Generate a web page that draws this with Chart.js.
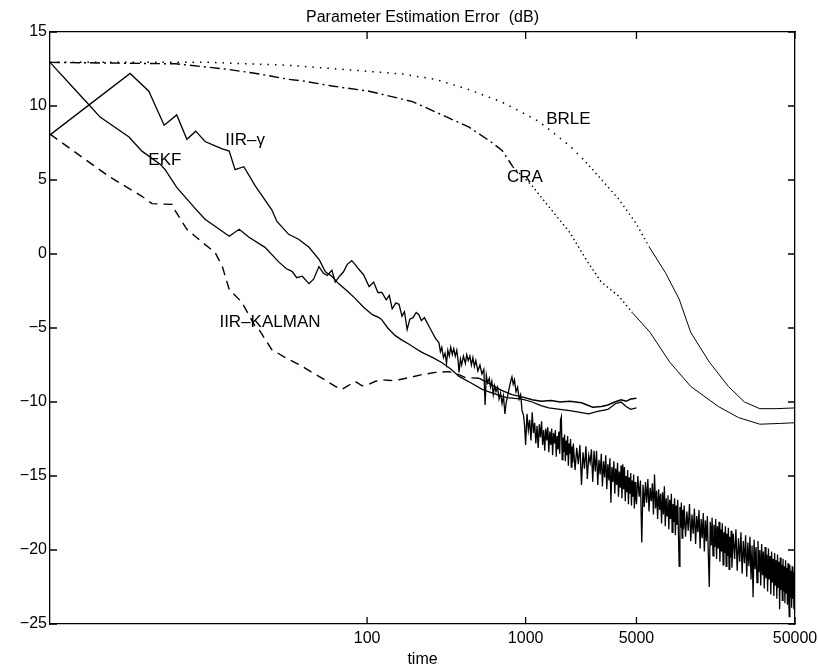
<!DOCTYPE html>
<html>
<head>
<meta charset="utf-8">
<title>Parameter Estimation Error</title>
<script src="https://cdn.jsdelivr.net/npm/chart.js@4/dist/chart.umd.min.js"></script>
<style>
  body{margin:0;background:#fff;}
  canvas{display:block;}
</style>
</head>
<body>
<canvas id="chart" width="818" height="671"></canvas>
<script>
// x axis ticks (time, log scale)
const xTicks = [100, 1000, 5000, 50000];

// EKF (noisy solid line, runs to 50000)
const ekfTime = [1,1.44,1.79,2.07,3.15,3.8,4.95,5.3,6.3,8.2,9.5,11.7,13.5,15.6,18,22.7,27.8,31,33.6,36,39,43,46,49.7,53,56,60,63,67,71,75,80,84,89,95,103,110,117,124,132,138,144,152,159,166,172,179,186,195,204,212,220,230,246,258,270,
  284,290,296,303,310,317,323,330,337,345,352,360,368,375,380,388,395,405,417,425,435,445,455,465,475,485,500,515,530,545,555,565,575,590,600,612,625,637,650,665,680,695,710,725,740,755,770,790,805,820,835,850,870,890,910,930,950,970,985,
  1000,1020,1040,1060,1080,1100,1120,1140,1160,1180,1200,1220,1240,1260,1280,1300,1320,1340,1360,1380,1400,1420,1440,1460,1480,
  1500,1520,1540,1560,1580,1600,1620,1640,1660,1680,1700,1720,1740,1760,1780,1800,1820,1840,1860,1880,1900,1920,1940,1960,1980,
  2000,2050,2100,2150,2200,2250,2300,2350,2400,2450,2500,2550,2600,2650,2700,2750,2800,2850,2900,2950,
  3000,3050,3100,3150,3200,3250,3300,3350,3400,3450,3500,3550,3600,3650,3700,3750,3800,3850,3900,3950,
  4000,4050,4100,4150,4200,4250,4300,4350,4400,4450,4500,4550,4600,4650,4700,4750,4800,4850,4900,4950,
  5000,5100,5200,5300,5400,5500,5600,5700,5800,5900,6000,6100,6200,6300,6400,6500,6600,6700,6800,6900,
  7000,7100,7200,7300,7400,7500,7600,7700,7800,7900,8000,8100,8200,8300,8400,8500,8600,8700,8800,8900,
  9000,9100,9200,9300,9400,9500,9600,9700,9800,9900,
  10000,10200,10400,10600,10800,11000,11200,11400,11600,11800,12000,12200,12400,12600,12800,13000,13200,13400,13600,13800,
  14000,14200,14400,14600,14800,15000,15200,15400,15600,15800,16000,16200,16400,16600,16800,17000,17200,17400,17600,17800,
  18000,18200,18400,18600,18800,19000,19200,19400,19600,19800,
  20000,20400,20800,21200,21600,22000,22400,22800,23200,23600,24000,24400,24800,25200,25600,26000,26400,26800,27200,27600,
  28000,28400,28800,29200,29600,30000,30400,30800,31200,31600,32000,32400,32800,33200,33600,34000,34400,34800,35200,35600,
  36000,36400,36800,37200,37600,38000,38400,38800,39200,39600,40000,40400,40800,41200,41600,42000,42400,42800,43200,43600,
  44000,44400,44800,45200,45600,46000,46400,46800,47200,47600,48000,48400,48800,49200,49600,50000];
const ekfDb = [12.95,11.1,10.0,9.25,7.9,6.95,6.07,5.73,4.5,3.1,2.35,1.67,1.2,1.67,1.13,0.45,-0.55,-1.0,-1.17,-1.6,-1.5,-2.0,-1.7,-0.85,-1.3,-1.45,-1.1,-1.9,-1.5,-1.2,-0.7,-0.45,-0.7,-1.05,-1.4,-2.2,-1.9,-2.6,-2.6,-3.1,-2.8,-3.7,-3.3,-3.4,-4.2,-3.9,-5.1,-4.4,-4.3,-3.95,-4.1,-4.5,-4.3,-4.9,-5.3,-5.7,
  -6.0,-6.6,-6.3,-7.0,-6.7,-7.4,-6.5,-6.9,-6.3,-6.8,-6.4,-6.9,-6.5,-7.2,-8.0,-7.1,-7.5,-6.9,-7.4,-6.8,-7.2,-6.9,-7.5,-7.0,-7.6,-7.2,-7.9,-7.5,-8.1,-7.8,-10.2,-8.2,-8.7,-8.4,-9.0,-8.6,-9.5,-8.9,-9.3,-9.0,-9.8,-9.4,-10.1,-9.6,-10.8,-10.0,-9.6,-9.0,-8.6,-8.3,-8.8,-8.5,-9.3,-9.0,-9.8,-9.5,-10.6,-10.9,-11.6,
  -12.9,-10.8,-11.9,-11.2,-12.6,-10.7,-12.1,-11.4,-12.8,-11.6,-13.1,-11.5,-12.4,-11.3,-12.9,-11.9,-13.3,-11.8,-12.6,-11.7,-13.4,-12.0,-12.9,-11.8,-13.6,
  -12.1,-12.8,-11.9,-13.7,-12.3,-13.2,-12.0,-13.5,-11.2,-11.0,-13.9,-12.4,-13.4,-12.2,-14.0,-12.6,-13.6,-12.3,-14.3,-12.8,-13.5,-12.5,-14.4,-13.0,-14.1,
  -12.8,-14.6,-13.1,-14.2,-12.9,-15.6,-13.4,-14.5,-13.0,-15.2,-13.6,-14.1,-13.2,-15.4,-13.3,-14.7,-13.3,-15.6,-13.9,-14.9,
  -13.5,-15.7,-14.0,-15.1,-13.6,-15.9,-14.2,-15.3,-13.8,-16.8,-14.4,-15.4,-14.0,-16.2,-14.5,-15.6,-14.1,-16.4,-14.7,-15.8,
  -14.3,-16.5,-14.2,-15.9,-14.4,-16.7,-15.0,-16.1,-14.6,-16.9,-15.1,-16.2,-14.8,-17.0,-15.3,-16.4,-14.9,-17.2,-15.4,-16.5,
  -16.9,-15.0,-16.4,-15.3,-19.5,-15.6,-17.1,-15.4,-16.8,-15.2,-17.4,-15.8,-16.7,-15.5,-17.6,-14.9,-17.2,-16.0,-17.9,-15.9,
  -17.3,-16.2,-18.2,-16.1,-17.6,-15.7,-18.4,-16.5,-17.7,-16.3,-18.6,-16.6,-17.9,-16.2,-18.8,-16.9,-18.1,-16.5,-19.0,-17.0,
  -18.3,-16.6,-18.9,-21.1,-17.1,-18.5,-16.8,-19.2,-17.3,-18.6,
  -17.0,-19.1,-17.4,-18.7,-16.9,-19.4,-17.6,-18.9,-17.2,-19.6,-17.7,-18.8,-17.3,-19.9,-17.9,-19.2,-17.5,-20.1,-18.0,-19.4,
  -17.7,-20.3,-22.5,-18.1,-19.7,-17.8,-20.4,-18.3,-19.8,-17.9,-20.6,-18.4,-19.9,-18.1,-20.8,-18.6,-20.1,-18.2,-21.0,-18.8,
  -20.2,-18.4,-21.1,-18.9,-20.4,-18.5,-21.3,-19.1,-20.5,-18.7,
  -21.2,-18.9,-20.6,-18.6,-21.4,-19.2,-20.8,-18.8,-21.6,-19.4,-20.9,-19.0,-21.8,-19.5,-21.1,-19.1,-22.0,-19.7,-23.2,-19.3,
  -21.3,-19.8,-22.2,-19.4,-21.5,-20.0,-22.4,-19.6,-21.7,-20.1,-22.6,-19.8,-21.9,-20.3,-22.8,-19.9,-22.0,-20.4,-23.0,-20.1,
  -22.2,-20.6,-23.1,-20.2,-22.4,-20.7,-23.3,-20.3,-22.5,-20.8,-24.0,-20.5,-22.7,-21.0,-23.4,-20.6,-22.8,-21.1,-23.6,-20.7,
  -22.9,-21.2,-23.7,-20.9,-23.0,-24.5,-21.0,-23.2,-21.4,-23.9,-21.1,-23.3,-21.5,-24.0,-21.2,-22.4];

// IIR-gamma (solid, ends at 5000)
const iirgTime = [1,3.2,4.2,5.25,6.3,7.3,8.3,9.5,11,12.2,13.5,14.7,16.7,19.7,25,27,32,37,43,50,54.5,60,66,75,84,95,108,119,124,135,150,165,184,200,222,260,297,340,380,450,532,600,680,760,850,950,1100,1250,1400,1650,1950,2200,2500,2800,3300,3700,4000,4300,4600,5000];
const iirgDb = [8.05,12.2,11.0,8.7,9.4,7.75,8.3,7.6,7.3,7.1,6.95,5.7,5.9,4.6,3.0,2.2,1.33,1.0,0.45,-0.4,-1.2,-1.5,-2.0,-2.5,-3.0,-3.6,-4.1,-4.3,-4.45,-5.0,-5.5,-5.8,-6.1,-6.35,-6.65,-7.0,-7.35,-7.8,-8.27,-8.7,-9.15,-9.35,-9.55,-9.7,-9.75,-9.8,-10.0,-10.25,-10.4,-10.5,-10.6,-10.7,-10.8,-10.65,-10.5,-10.1,-10.0,-10.3,-10.5,-10.4];

// IIR-KALMAN (dashed, ends at 5000)
const kalTime = [1,2.35,3.8,4.4,5.9,6.1,7.3,9.1,11,12.2,13.5,16.2,19.7,20.8,25,30.5,37,45,54,63,69,76,84,93,103,113,124,140,159,193,222,270,330,380,417,510,600,700,820,950,1100,1250,1450,1650,1900,2250,2650,3000,3300,3650,4000,4300,4600,5000];
const kalDb = [8.1,5.25,3.9,3.4,3.35,3.0,1.67,0.8,0.1,-0.83,-2.4,-3.25,-4.9,-5.1,-6.45,-7.0,-7.45,-8.0,-8.5,-8.95,-9.15,-8.9,-8.6,-8.9,-8.8,-8.6,-8.5,-8.55,-8.5,-8.3,-8.15,-8.0,-7.95,-8.15,-8.35,-8.4,-8.8,-9.2,-9.5,-9.65,-9.85,-9.95,-9.9,-10.0,-9.95,-10.05,-10.35,-10.3,-10.2,-10.0,-9.85,-9.95,-9.8,-9.75];

// BRLE (dotted)
const brleTime = [1,10,32,100,166,270,440,710,1150,1320,1900,2400,3000,3870,4950,6000,7600,9300,11000,14400,19000,24000,30000,38000,50000];
const brleDb = [12.95,12.95,12.75,12.35,12.16,11.8,11.1,10.26,9.1,8.65,7.3,6.2,5.05,3.7,2.1,0.5,-1.25,-3.05,-5.3,-7.3,-8.95,-10.0,-10.45,-10.45,-10.4];

// CRA (dash-dot)
const craTime = [1,6.2,12.7,20,32,39,60,103,193,270,440,600,710,830,1100,1400,1900,2400,3000,3870,4700,6100,8100,11000,16400,22000,30000,40000,50000];
const craDb = [12.95,12.85,12.5,12.2,11.8,11.7,11.35,11.0,10.3,9.6,8.57,7.6,7.0,5.9,4.6,3.2,1.45,-0.35,-1.9,-2.85,-3.95,-5.3,-7.3,-8.95,-10.3,-11.05,-11.5,-11.45,-11.4];

// curve labels
const labelText = ['EKF', 'IIR\u2013\u03b3', 'IIR\u2013KALMAN', 'BRLE', 'CRA'];
const labelTime = [5.3, 17, 24.4, 1860, 990];
const labelDb = [6.3, 7.7, -4.6, 9.1, 5.2];

const FONT = 'Liberation Sans, Arial, Helvetica, sans-serif';
const pts = (t, d) => t.map((x, i) => ({x, y: d[i]}));

const inwardTicks = {
  id: 'inwardTicks',
  afterDraw(chart) {
    const {ctx, chartArea: a, scales} = chart;
    const L = 7;
    ctx.save();
    ctx.strokeStyle = '#000'; ctx.lineWidth = 1.3;
    ctx.beginPath();
    xTicks.forEach(v => {
      const px = scales.x.getPixelForValue(v);
      ctx.moveTo(px, a.bottom); ctx.lineTo(px, a.bottom - L);
      ctx.moveTo(px, a.top); ctx.lineTo(px, a.top + L);
    });
    scales.y.ticks.forEach(t => {
      const py = scales.y.getPixelForValue(t.value);
      ctx.moveTo(a.left, py); ctx.lineTo(a.left + L, py);
      ctx.moveTo(a.right, py); ctx.lineTo(a.right - L, py);
    });
    ctx.stroke();
    // curve labels
    ctx.fillStyle = '#000';
    ctx.font = '17px ' + FONT;
    ctx.textAlign = 'center'; ctx.textBaseline = 'middle';
    labelText.forEach((s, i) => {
      ctx.fillText(s, scales.x.getPixelForValue(labelTime[i]), scales.y.getPixelForValue(labelDb[i]));
    });
    ctx.restore();
  }
};

const base = {fill: false, pointRadius: 0, tension: 0, borderColor: '#000'};

new Chart(document.getElementById('chart').getContext('2d'), {
  type: 'line',
  data: {
    datasets: [
      {...base, label: 'EKF', data: pts(ekfTime, ekfDb), borderWidth: 1.3},
      {...base, label: 'IIR-gamma', data: pts(iirgTime, iirgDb), borderWidth: 1.3},
      {...base, label: 'IIR-KALMAN', data: pts(kalTime, kalDb), borderWidth: 1.4,
        segment: {borderDash: c => c.p0.parsed.x >= 420 ? [] : [9, 6]}},
      {...base, label: 'BRLE', data: pts(brleTime, brleDb), borderWidth: 1.3,
        segment: {borderDash: c => c.p0.parsed.x >= 5000 ? [] : (c.p0.parsed.x >= 2400 ? [1.3, 3.5] : [1.5, 6]), borderWidth: c => c.p0.parsed.x >= 5000 ? 1 : 1.5}},
      {...base, label: 'CRA', data: pts(craTime, craDb), borderWidth: 1.3,
        segment: {borderDash: c => c.p0.parsed.x >= 4700 ? [] : (c.p0.parsed.x >= 830 ? [1.5, 3] : [10, 4, 2, 4]), borderWidth: c => c.p0.parsed.x >= 4700 ? 1 : 1.4}}
    ]
  },
  options: {
    responsive: false, animation: false, devicePixelRatio: 1,
    layout: {padding: 0},
    plugins: {
      legend: {display: false}, tooltip: {enabled: false},
      title: {display: true, fullSize: false, text: 'Parameter Estimation Error  (dB)', color: '#000',
        font: {family: FONT, size: 16, weight: 'normal'}, padding: {top: 8, bottom: 4.8}}
    },
    scales: {
      x: {
        type: 'logarithmic', position: 'bottom', min: 1, max: 50000,
        afterBuildTicks: s => { s.ticks = xTicks.map(v => ({value: v})); },
        ticks: {autoSkip: false, maxRotation: 0, padding: 5, color: '#000', font: {family: FONT, size: 16}, callback: v => String(v)},
        grid: {display: false, drawTicks: false},
        border: {display: true, color: '#000', width: 1.3},
        title: {display: true, text: 'time', color: '#000', font: {family: FONT, size: 16}, padding: {top: 0, bottom: 2}},
        afterFit: s => { s.height = 47; s.paddingLeft = 0; s.paddingRight = 0; }
      },
      xTop: {
        type: 'logarithmic', position: 'top', min: 1, max: 50000,
        ticks: {display: false}, grid: {display: false, drawTicks: false},
        border: {display: true, color: '#000', width: 1.3},
        afterFit: s => { s.height = 0; s.paddingLeft = 0; s.paddingRight = 0; }
      },
      y: {
        min: -25, max: 15,
        ticks: {stepSize: 5, padding: 3, color: '#000', font: {family: FONT, size: 16}, callback: v => String(v).replace('-', '\u2212')},
        grid: {display: false, drawTicks: false},
        border: {display: true, color: '#000', width: 1.3},
        afterFit: s => { s.width = 50; s.paddingTop = 0; s.paddingBottom = 0; }
      },
      yRight: {
        position: 'right', min: -25, max: 15,
        ticks: {display: false}, grid: {display: false, drawTicks: false},
        border: {display: true, color: '#000', width: 1.3},
        afterFit: s => { s.width = 23; s.paddingTop = 0; s.paddingBottom = 0; }
      }
    }
  },
  plugins: [inwardTicks]
});
</script>
</body>
</html>
